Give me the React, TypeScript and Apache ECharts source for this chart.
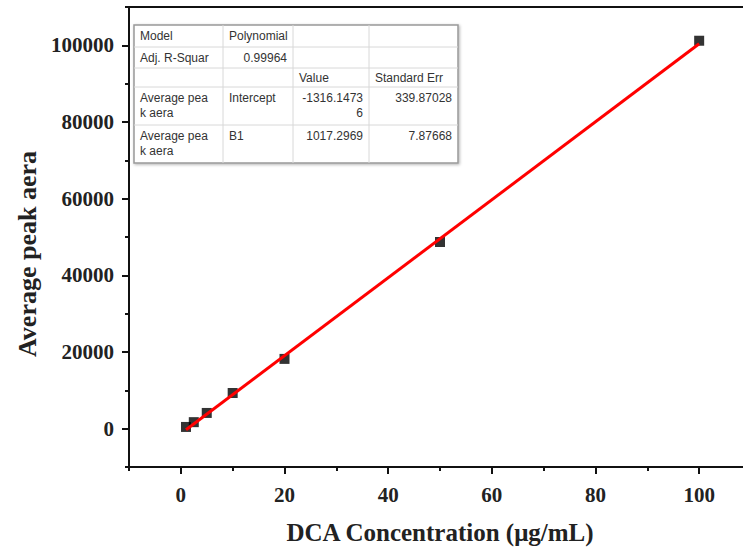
import React, { useEffect, useRef } from "react";
import * as echarts from "echarts";

const concentrations = [1, 2.5, 5, 10, 20, 50, 100];
const peakAreas = [450, 1700, 4100, 9300, 18200, 48700, 101200];
const fitX = [1, 100];
const fitY = [-299, 100414];

const xMajorTicks = [0, 20, 40, 60, 80, 100];
const yMajorTicks = [0, 20000, 40000, 60000, 80000, 100000];

const tableRow1 = ["Model", "Polynomial", "", ""];
const tableRow2 = ["Adj. R-Squar", "0.99964", "", ""];
const tableRow3 = ["", "", "Value", "Standard Err"];
const tableRow4 = ["Average pea\nk aera", "Intercept", "-1316.1473\n6", "339.87028"];
const tableRow5 = ["Average pea\nk aera", "B1", "1017.2969", "7.87668"];

const xTitle = "DCA Concentration (μg/mL)";
const yTitle = "Average peak aera";

export default function App() {
  const ref = useRef<HTMLDivElement>(null);
  useEffect(() => {
    if (!ref.current) return;
    const chart = echarts.init(ref.current, null, { renderer: "svg" });

    const colX = [134, 223, 293, 369, 458];
    const rowY = [25, 47, 68, 87, 125, 163];
    const rows = [tableRow1, tableRow2, tableRow3, tableRow4, tableRow5];
    const align = [
      ["left", "left", "left", "left"],
      ["left", "right", "left", "left"],
      ["left", "left", "left", "left"],
      ["left", "left", "right", "right"],
      ["left", "left", "right", "right"],
    ];
    const tableEls: any[] = [];
    tableEls.push({
      type: "rect",
      shape: { x: colX[0], y: rowY[0], width: colX[4] - colX[0], height: rowY[5] - rowY[0] },
      style: { fill: "#fff", stroke: "#999", lineWidth: 1.5, shadowBlur: 3, shadowColor: "rgba(0,0,0,0.3)", shadowOffsetX: 1, shadowOffsetY: 1 },
      z: 10,
    });
    for (let i = 1; i < 5; i++) {
      tableEls.push({
        type: "line",
        shape: { x1: colX[0], y1: rowY[i], x2: colX[4], y2: rowY[i] },
        style: { stroke: "#d8d8d8", lineWidth: 1 },
        z: 11,
      });
    }
    for (let j = 1; j < 4; j++) {
      tableEls.push({
        type: "line",
        shape: { x1: colX[j], y1: rowY[0], x2: colX[j], y2: rowY[5] },
        style: { stroke: "#d8d8d8", lineWidth: 1 },
        z: 11,
      });
    }
    rows.forEach((row, i) => {
      row.forEach((txt, j) => {
        if (!txt) return;
        const a = align[i][j];
        const top = i >= 3;
        tableEls.push({
          type: "text",
          x: a === "left" ? colX[j] + 6 : colX[j + 1] - 6,
          y: top ? rowY[i] + 3 : (rowY[i] + rowY[i + 1]) / 2,
          style: {
            text: txt,
            fill: "#333",
            font: "12px 'Liberation Sans', Arial, sans-serif",
            align: a,
            verticalAlign: top ? "top" : "middle",
            lineHeight: 15,
          },
          z: 12,
        });
      });
    });

    const serif = "'Liberation Serif', 'Times New Roman', serif";
    const tickFont = {
      fontFamily: serif,
      fontWeight: "bold" as const,
      fontSize: 21,
      color: "#222",
    };
    const lineStyle = { color: "#111", width: 2 };

    chart.setOption({
      animation: false,
      backgroundColor: "#fff",
      grid: {
        left: 129,
        right: 9,
        top: 7,
        bottom: 84,
        show: true,
        borderColor: "#111",
        borderWidth: 2,
        backgroundColor: "#fff",
      },
      xAxis: [
        {
          type: "value",
          min: -10,
          max: 110,
          interval: 10,
          name: xTitle,
          nameLocation: "middle",
          nameGap: 53,
          nameTextStyle: { fontFamily: serif, fontWeight: "bold", fontSize: 25, color: "#222" },
          axisLine: { show: true, onZero: false, lineStyle },
          axisTick: { show: true, inside: false, length: 4, lineStyle },
          axisLabel: {
            ...tickFont,
            margin: 17,
            formatter: (v: number) => (v >= 0 && v <= 100 && v % 20 === 0 ? String(v) : ""),
          },
          splitLine: { show: false },
        },
        {
          type: "value",
          position: "bottom",
          min: -10,
          max: 110,
          interval: 10,
          axisLine: { show: false, onZero: false },
          axisTick: { show: true, inside: false, length: 7, lineStyle, customValues: xMajorTicks },
          axisLabel: { show: false },
          splitLine: { show: false },
        },
      ],
      yAxis: [
        {
          type: "value",
          min: -10000,
          max: 110000,
          interval: 10000,
          name: yTitle,
          nameLocation: "middle",
          nameGap: 88,
          nameRotate: 90,
          nameTextStyle: { fontFamily: serif, fontWeight: "bold", fontSize: 26, color: "#222", padding: [0, 34, 0, 0] },
          axisLine: { show: true, onZero: false, lineStyle },
          axisTick: { show: true, inside: false, length: 4, lineStyle },
          axisLabel: {
            ...tickFont,
            margin: 15,
            formatter: (v: number) => (v >= 0 && v <= 100000 && v % 20000 === 0 ? String(v) : ""),
          },
          splitLine: { show: false },
        },
        {
          type: "value",
          position: "left",
          min: -10000,
          max: 110000,
          interval: 10000,
          axisLine: { show: false, onZero: false },
          axisTick: { show: true, inside: false, length: 7, lineStyle, customValues: yMajorTicks },
          axisLabel: { show: false },
          splitLine: { show: false },
        },
      ],
      series: [
        {
          type: "scatter",
          data: concentrations.map((c, i) => [c, peakAreas[i]]),
          symbol: "rect",
          symbolSize: 10,
          itemStyle: { color: "#000" },
          z: 2,
        },
        {
          type: "line",
          data: fitX.map((x, i) => [x, fitY[i]]),
          showSymbol: false,
          symbol: "none",
          lineStyle: { color: "#ff0000", width: 3 },
          z: 3,
        },
      ],
      graphic: tableEls,
    });
    return () => chart.dispose();
  }, []);
  return (
    <div style={{ width: 743, height: 551, position: "absolute", left: 0, top: 0, overflow: "hidden" }}>
      <div ref={ref} style={{ width: 760, height: 551 }} />
    </div>
  );
}
